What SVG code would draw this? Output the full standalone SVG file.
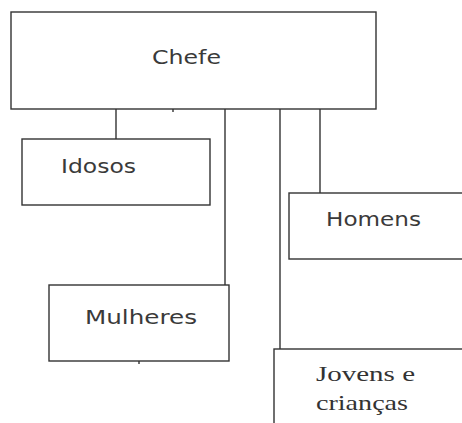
<svg xmlns="http://www.w3.org/2000/svg" width="462" height="423" viewBox="0 0 462 423">
<style>
.box{fill:#fff;stroke:#333;stroke-width:1.4}
.ln{stroke:#333;stroke-width:1.4;fill:none}
.s{font-family:"DejaVu Sans","Open Sans",sans-serif;font-size:19.5px;fill:#3a3a3a}
.r{font-family:"Liberation Serif","Times New Roman",serif;font-size:22px;fill:#333}
</style>
<rect width="462" height="423" fill="#fff"/>
<g id="connectors">
<line class="ln" x1="116" y1="109" x2="116" y2="139"/>
<line class="ln" x1="225" y1="109" x2="225" y2="286"/>
<line class="ln" x1="280" y1="109" x2="280" y2="349"/>
<line class="ln" x1="320" y1="109" x2="320" y2="193"/>
<line class="ln" x1="173" y1="109" x2="173" y2="112"/>
<line class="ln" x1="139" y1="361" x2="139" y2="364"/>
</g>
<g id="chefe">
<rect class="box" x="11" y="12" width="365" height="97"/>
<text class="s" x="152" y="64" textLength="69" lengthAdjust="spacingAndGlyphs">Chefe</text>
</g>
<g id="idosos">
<rect class="box" x="22" y="139" width="188" height="66"/>
<text class="s" x="61" y="173" textLength="75" lengthAdjust="spacingAndGlyphs">Idosos</text>
</g>
<g id="homens">
<rect class="box" x="289" y="193" width="180" height="66"/>
<text class="s" x="326" y="226" textLength="95" lengthAdjust="spacingAndGlyphs">Homens</text>
</g>
<g id="mulheres">
<rect class="box" x="49" y="285" width="180" height="76"/>
<text class="s" x="85" y="324" textLength="112" lengthAdjust="spacingAndGlyphs">Mulheres</text>
</g>
<g id="jovens">
<rect class="box" x="274" y="349" width="195" height="80"/>
<text class="r" x="316" y="381" textLength="99" lengthAdjust="spacingAndGlyphs">Jovens e</text>
<text class="r" x="316" y="410" textLength="92" lengthAdjust="spacingAndGlyphs">crianças</text>
</g>
</svg>
